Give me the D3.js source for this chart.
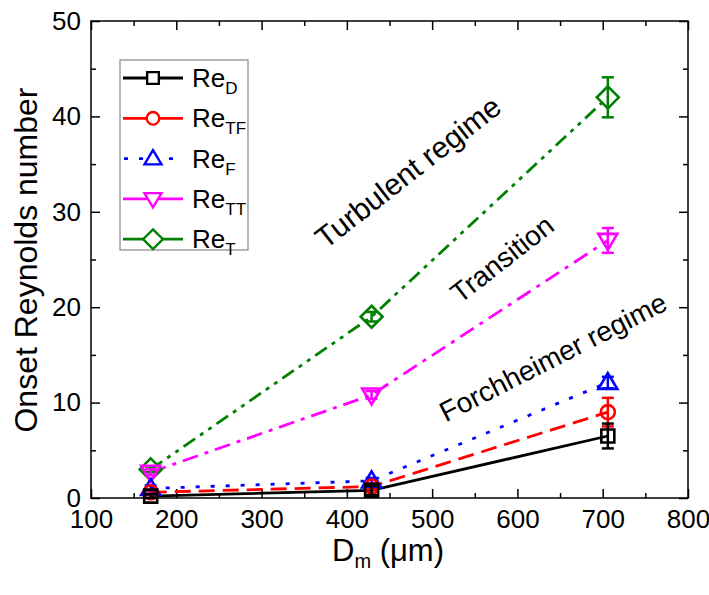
<!DOCTYPE html>
<html><head><meta charset="utf-8">
<script src="https://cdn.jsdelivr.net/npm/d3@7"></script>
<style>body{margin:0;background:#fff}svg{display:block}text{font-family:"Liberation Sans",Arial,sans-serif}</style>
</head><body><svg id="c" width="709" height="595"></svg>
<script>
const dm = [170, 429, 706];
const reD = [0.2, 0.8, 6.5];
const reTF = [0.6, 1.2, 9.0];
const reF = [1.0, 1.8, 12.1];
const reTT = [2.7, 10.8, 27.0];
const reT = [3.0, 19.0, 42.0];
const errD = [0.2, 0.5, 1.3];
const errTF = [0.2, 0.3, 1.5];
const errF = [0.3, 0.3, 0.6];
const errTT = [0.3, 0.4, 1.3];
const errT = [0.3, 0.5, 2.1];
const seriesNames = ["D", "TF", "F", "TT", "T"];
const xTicks = [100, 200, 300, 400, 500, 600, 700, 800];
const yTicks = [0, 10, 20, 30, 40, 50];
const annotations = ["Turbulent regime", "Transition", "Forchheimer regime"];

const svg = d3.select("#c");
const x = d3.scaleLinear([100, 800], [91, 688]);
const y = d3.scaleLinear([0, 50], [498, 21]);

const series = [
  {name: seriesNames[0], v: reD, e: errD, color: "#000000", dash: null, sym: "square"},
  {name: seriesNames[1], v: reTF, e: errTF, color: "#ff0000", dash: "16,8", sym: "circle"},
  {name: seriesNames[2], v: reF, e: errF, color: "#0000ff", dash: "4,11", sym: "up"},
  {name: seriesNames[3], v: reTT, e: errTT, color: "#ff00ff", dash: "16,7,4,7", sym: "down"},
  {name: seriesNames[4], v: reT, e: errT, color: "#008000", dash: "14,6,4,6,4,6", sym: "diamond"}
];

function symPath(s) {
  const r = 6.5;
  if (s === "square") return `M${-r},${-r}H${r}V${r}H${-r}Z`;
  if (s === "circle") return `M${r+0.5},0A${r+0.5},${r+0.5} 0 1,1 ${-r-0.5},0A${r+0.5},${r+0.5} 0 1,1 ${r+0.5},0Z`;
  if (s === "up") return `M0,${-9.5}L${9.5},${6.5}L${-9.5},${6.5}Z`;
  if (s === "down") return `M0,${9.5}L${9.5},${-6.5}L${-9.5},${-6.5}Z`;
  if (s === "diamond") return `M0,${-11}L${11},0L0,${11}L${-11},0Z`;
}

// axes
const fontTick = 26;
const minorX = d3.range(150, 800, 100);
const minorY = d3.range(5, 50, 10);
function styleAxis(g) { g.select(".domain").remove(); g.selectAll("line").attr("stroke", "#000").attr("stroke-width", 1.5); g.selectAll("text").attr("font-size", fontTick).attr("fill", "#000").attr("font-family", '"Liberation Sans",Arial,sans-serif'); }
svg.append("g").attr("transform", "translate(0,498)").call(d3.axisBottom(x).tickValues(xTicks).tickSizeInner(-9).tickSizeOuter(0).tickPadding(12).tickFormat(d3.format("d"))).call(styleAxis);
svg.append("g").attr("transform", "translate(0,498)").call(d3.axisBottom(x).tickValues(minorX).tickSizeInner(-5).tickSizeOuter(0).tickFormat("")).call(styleAxis);
svg.append("g").attr("transform", "translate(0,21)").call(d3.axisTop(x).tickValues(xTicks).tickSizeInner(-9).tickSizeOuter(0).tickFormat("")).call(styleAxis);
svg.append("g").attr("transform", "translate(0,21)").call(d3.axisTop(x).tickValues(minorX).tickSizeInner(-5).tickSizeOuter(0).tickFormat("")).call(styleAxis);
svg.append("g").attr("transform", "translate(91,0)").call(d3.axisLeft(y).tickValues(yTicks).tickSizeInner(-9).tickSizeOuter(0).tickPadding(10)).call(styleAxis);
svg.append("g").attr("transform", "translate(91,0)").call(d3.axisLeft(y).tickValues(minorY).tickSizeInner(-5).tickSizeOuter(0).tickFormat("")).call(styleAxis);
svg.append("g").attr("transform", "translate(688,0)").call(d3.axisRight(y).tickValues(yTicks).tickSizeInner(-9).tickSizeOuter(0).tickFormat("")).call(styleAxis);
svg.append("g").attr("transform", "translate(688,0)").call(d3.axisRight(y).tickValues(minorY).tickSizeInner(-5).tickSizeOuter(0).tickFormat("")).call(styleAxis);
svg.append("rect").attr("x", x(100)).attr("y", y(50)).attr("width", x(800) - x(100)).attr("height", y(0) - y(50))
  .attr("fill", "none").attr("stroke", "#000").attr("stroke-width", 1.5);

// lines
const line = d3.line().x(d => x(d[0])).y(d => y(d[1]));
series.forEach(s => {
  svg.append("path").datum(dm.map((d, i) => [d, s.v[i]])).attr("d", line)
    .attr("fill", "none").attr("stroke", s.color).attr("stroke-width", 2.8)
    .attr("stroke-dasharray", s.dash);
});
// error bars + markers (draw T first)
series.slice().reverse().forEach(s => {
  const g = svg.append("g");
  dm.forEach((d, i) => {
    const cx = x(d), top = y(s.v[i] + s.e[i]), bot = y(s.v[i] - s.e[i]);
    g.append("line").attr("x1", cx).attr("x2", cx).attr("y1", top).attr("y2", bot).attr("stroke", s.color).attr("stroke-width", 2.5);
    [top, bot].forEach(yy => g.append("line").attr("x1", cx - 6).attr("x2", cx + 6).attr("y1", yy).attr("y2", yy).attr("stroke", s.color).attr("stroke-width", 2.5));
    g.append("path").attr("d", symPath(s.sym)).attr("transform", `translate(${cx},${y(s.v[i])})`)
      .attr("fill", "none").attr("stroke", s.color).attr("stroke-width", 2.6);
  });
});

// legend
const lg = svg.append("g");
lg.append("rect").attr("x", 120).attr("y", 60).attr("width", 128).attr("height", 190).attr("fill", "#fff").attr("stroke", "#888").attr("stroke-width", 1.2);
series.forEach((s, i) => {
  const yy = 78 + i * 40.3;
  lg.append("line").attr("x1", 123).attr("x2", 183).attr("y1", yy).attr("y2", yy).attr("stroke", s.color).attr("stroke-width", 2.8).attr("stroke-dasharray", s.name === "F" ? "4,11" : null).attr("stroke-dashoffset", s.name === "F" ? -1 : 0);
  lg.append("path").attr("d", symPath(s.sym)).attr("transform", `translate(153,${yy}) scale(0.9)`).attr("fill", "#fff").attr("stroke", s.color).attr("stroke-width", 2.6);
  const t = lg.append("text").attr("x", 192).attr("y", yy + 9).attr("font-size", 26).attr("fill", "#000");
  t.append("tspan").text("Re");
  t.append("tspan").attr("font-size", 17).attr("dy", 7).text(s.name);
});

// annotations
const annPos = [[408, 172, -38, 30], [502, 259, -38, 28], [553, 357, -27, 28]];
annotations.forEach((a, i) => {
  svg.append("text").attr("transform", `translate(${annPos[i][0]},${annPos[i][1]}) rotate(${annPos[i][2]})`)
    .attr("text-anchor", "middle").attr("dy", "0.35em").attr("font-size", annPos[i][3]).attr("fill", "#000").text(a);
});

// axis titles
svg.append("text").attr("transform", "translate(37,260) rotate(-90)").attr("text-anchor", "middle").attr("font-size", 32).attr("fill", "#000").text("Onset Reynolds number");
const xt = svg.append("text").attr("x", 388).attr("y", 561).attr("text-anchor", "middle").attr("font-size", 31).attr("fill", "#000");
xt.append("tspan").text("D");
xt.append("tspan").attr("font-size", 20).attr("dy", 7).text("m");
xt.append("tspan").attr("dy", -7).text(" (\u03bcm)");
</script></body></html>
